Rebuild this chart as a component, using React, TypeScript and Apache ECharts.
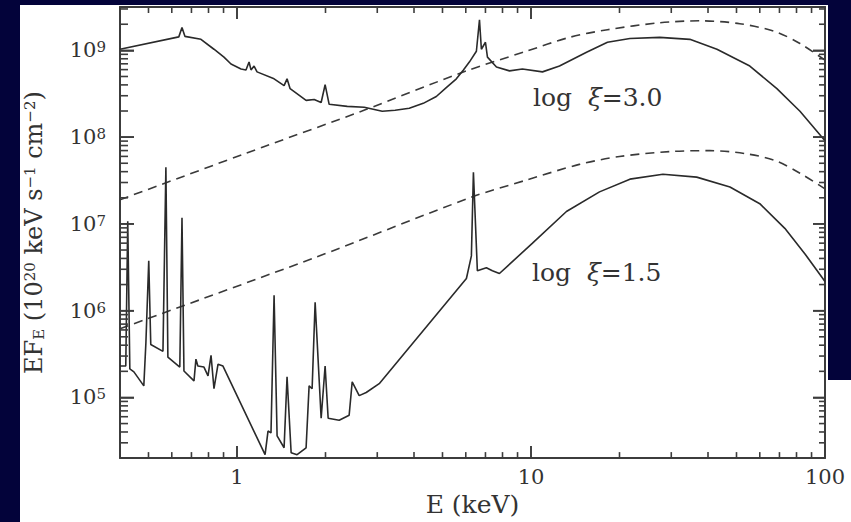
import React, { useEffect, useRef } from 'react';
import * as echarts from 'echarts';

// Axis ranges
const E_MIN = 0.4;
const E_MAX = 100;
const F_MIN = 2e4;
const F_MAX = 3.16e9;

// Tick values along all four frame sides
const xMajorTicks = [1, 10];
const xMinorTicks = [0.5, 0.6, 0.7, 0.8, 0.9, 2, 3, 4, 5, 6, 7, 8, 9, 20, 30, 40, 50, 60, 70, 80, 90];
const yMajorTicks = [1e5, 1e6, 1e7, 1e8, 1e9];
const yMinorTicks = [
  3e4, 4e4, 5e4, 6e4, 7e4, 8e4, 9e4,
  2e5, 3e5, 4e5, 5e5, 6e5, 7e5, 8e5, 9e5,
  2e6, 3e6, 4e6, 5e6, 6e6, 7e6, 8e6, 9e6,
  2e7, 3e7, 4e7, 5e7, 6e7, 7e7, 8e7, 9e7,
  2e8, 3e8, 4e8, 5e8, 6e8, 7e8, 8e8, 9e8,
  2e9, 3e9,
];

// Incident (dashed) spectrum, log xi = 3.0
const incHiE = [0.4, 1.24, 2.65, 6.03, 9.65, 13.5, 18.2, 27.4, 37.5, 51.3, 67.5, 82.2, 100];
const incHiF = [1.9e7, 7.8e7, 1.99e8, 5.8e8, 9.77e8, 1.41e9, 1.73e9, 2.08e9, 2.19e9, 2.03e9, 1.65e9, 1.2e9, 7.7e8];

// Incident (dashed) spectrum, log xi = 1.5
const incLoE = [0.4, 1.83, 6.32, 9.65, 14.6, 20.0, 29.6, 40.6, 53.4, 67.5, 82.2, 100];
const incLoF = [6.2e5, 4.06e6, 2.05e7, 3.2e7, 4.85e7, 5.98e7, 6.81e7, 6.99e7, 6.47e7, 5.39e7, 3.84e7, 2.53e7];

// Reflected (solid) spectrum, log xi = 3.0
const refHiE = [
  0.4, 0.634, 0.65, 0.665, 0.754, 0.835, 0.903, 0.954, 1.032, 1.073, 1.099, 1.116, 1.143, 1.17,
  1.337, 1.446, 1.48, 1.516, 1.718, 1.83, 1.933, 1.994, 2.058, 2.371, 2.709, 3.119, 3.45, 3.855, 4.3, 4.764,
  5.15, 5.574, 5.89, 6.17, 6.52, 6.68, 6.78, 7.0, 7.11, 7.63, 8.45, 9.35, 10.94, 12.5, 15.45, 18.2, 21.7, 27.4,
  34.7, 42.9, 55.5, 68.6, 82.2, 100,
];
const refHiF = [
  1.03e9, 1.43e9, 1.83e9, 1.45e9, 1.34e9, 1.03e9, 8.35e8, 6.96e8, 6.11e8, 5.95e8, 7.33e8, 5.95e8, 6.6e8, 5.65e8,
  4.7e8, 3.92e8, 4.7e8, 3.62e8, 2.65e8, 2.72e8, 2.51e8, 4.02e8, 2.39e8, 2.26e8, 2.21e8, 1.99e8, 2.04e8, 2.15e8, 2.45e8, 2.94e8,
  3.72e8, 4.7e8, 5.95e8, 7.33e8, 9.77e8, 2.25e9, 1.03e9, 1.24e9, 8.35e8, 6.43e8, 5.8e8, 6.11e8, 5.65e8, 6.6e8, 9.52e8, 1.24e9, 1.37e9, 1.41e9,
  1.34e9, 1.03e9, 6.6e8, 3.62e8, 1.99e8, 9.08e7,
];

// Reflected (solid) spectrum, log xi = 1.5
const refLoE = [
  0.4, 0.4185, 0.425, 0.432, 0.446, 0.482, 0.49, 0.501, 0.509, 0.56, 0.573, 0.582, 0.639, 0.65, 0.66,
  0.714, 0.725, 0.736, 0.772, 0.797, 0.816, 0.835, 0.862, 0.896, 1.246, 1.275, 1.305, 1.337, 1.369,
  1.446, 1.48, 1.528, 1.601, 1.718, 1.759, 1.801, 1.844, 1.933, 1.994, 2.042, 2.226, 2.407, 2.465,
  2.604, 2.751, 3.046, 6.03, 6.27, 6.37, 6.57, 7.05, 7.39, 7.81, 10.12, 13.2, 17.1, 21.7, 28.1, 36.6,
  47.5, 60.0, 73.0, 85.5, 100,
];
const refLoF = [
  2.3e5, 2.3e5, 1.07e7, 2.13e5, 1.97e5, 1.36e5, 4.3e5, 3.76e6, 4.08e5, 3.4e5, 4.49e7, 2.91e5, 2.24e5, 1.18e7, 2.02e5,
  1.55e5, 2.76e5, 2.3e5, 2.24e5, 1.77e5, 3.06e5, 1.26e5, 2.42e5, 2.3e5, 2.19e4, 4.1e4, 3.9e4, 1.51e6, 3.6e4,
  2.63e4, 1.73e5, 2.31e4, 2.19e4, 2.63e4, 1.36e5, 1.26e5, 1.25e6, 5.76e4, 2.3e5, 5.76e4, 5.47e4, 6.23e4, 1.51e5,
  1.05e5, 1.14e5, 1.44e5, 2.35e6, 4.28e6, 3.94e7, 2.89e6, 3.13e6, 2.89e6, 2.68e6, 6.01e6, 1.39e7, 2.34e7, 3.28e7, 3.74e7, 3.46e7,
  2.66e7, 1.71e7, 8.89e6, 4.51e6, 2.17e6,
];

const annotations = [
  { text: '{a|log  }{i|ξ}{a|=3.0}', x: 533, y: 97 },
  { text: '{a|log  }{i|ξ}{a|=1.5}', x: 532, y: 272 },
];

const NAVY = '#03033a';
const INK = '#333333';
const FRAME = '#3c3c3c';
const SERIF = '"DejaVu Serif", serif';

const zip = (xs: number[], ys: number[]) => xs.map((x, i) => [x, ys[i]]);
const isPow10 = (v: number) => {
  const l = Math.log10(v);
  return Math.abs(l - Math.round(l)) < 1e-6;
};

export default function App() {
  const ref = useRef<HTMLDivElement>(null);

  useEffect(() => {
    if (!ref.current) return;
    const chart = echarts.init(ref.current, undefined, { renderer: 'svg' });
    const lineStyleSolid = { color: '#2a2a2a', width: 1.6 };
    const lineStyleDash = { color: '#3a3a3a', width: 1.6, type: [9, 6] as any };
    const tickLine = (len: number) => ({ show: true, inside: true, length: len, lineStyle: { color: FRAME, width: 1.6 } });

    const annotationGraphics = annotations.map((a) => ({
      type: 'text',
      x: a.x,
      y: a.y,
      z: 10,
      style: {
        text: a.text,
        fill: INK,
        verticalAlign: 'middle',
        align: 'left',
        rich: {
          a: { fontFamily: SERIF, fontSize: 25, fill: INK, color: INK },
          i: { fontFamily: SERIF, fontSize: 25, fontStyle: 'italic', fill: INK, color: INK },
        },
      },
    }));

    const option: any = {
      animation: false,
      backgroundColor: 'transparent',
      textStyle: { fontFamily: SERIF },
      grid: { left: 120, top: 7, right: 26, bottom: 56 },
      graphic: annotationGraphics,
      xAxis: [
        {
          type: 'log',
          min: E_MIN,
          max: E_MAX,
          name: 'E (keV)',
          nameLocation: 'middle',
          nameGap: 31,
          nameTextStyle: { fontFamily: SERIF, fontSize: 25, color: INK },
          axisLine: { show: true, lineStyle: { color: FRAME, width: 2 } },
          axisTick: tickLine(12),
          axisLabel: {
            margin: 8,
            fontFamily: SERIF,
            fontSize: 21,
            color: INK,
            formatter: (v: number) => (isPow10(v) ? String(Math.round(v)) : ''),
          },
          splitLine: { show: false },
        },
        {
          type: 'log',
          min: E_MIN,
          max: E_MAX,
          position: 'top',
          axisLine: { show: true, lineStyle: { color: FRAME, width: 2 } },
          axisTick: tickLine(12),
          axisLabel: { show: false },
          splitLine: { show: false },
        },
      ],
      yAxis: [
        {
          type: 'log',
          min: F_MIN,
          max: F_MAX,
          name: '{a|EF}{sub|E}{a| (10}{sup|20}{a| keV s}{sup|−1}{a| cm}{sup|−2}{a|)}',
          nameLocation: 'middle',
          nameRotate: 90,
          nameGap: 74,
          nameTextStyle: {
            fontFamily: SERIF,
            fontSize: 24,
            color: INK,
            rich: {
              a: { fontFamily: SERIF, fontSize: 24, color: INK },
              sup: { fontFamily: SERIF, fontSize: 15, color: INK, verticalAlign: 'top' },
              sub: { fontFamily: SERIF, fontSize: 15, color: INK, verticalAlign: 'bottom', padding: [6, 0, 0, 0] },
            },
          },
          axisLine: { show: true, lineStyle: { color: FRAME, width: 2 } },
          axisTick: tickLine(14),
          axisLabel: {
            margin: 14,
            fontFamily: SERIF,
            fontSize: 21,
            color: INK,
            formatter: (v: number) => (isPow10(v) ? `{b|10}{s|${Math.round(Math.log10(v))}}` : ''),
            rich: {
              b: { fontFamily: SERIF, fontSize: 21, color: INK },
              s: { fontFamily: SERIF, fontSize: 15, color: INK, verticalAlign: 'top' },
            },
          },
          splitLine: { show: false },
        },
        {
          type: 'log',
          min: F_MIN,
          max: F_MAX,
          position: 'right',
          axisLine: { show: true, lineStyle: { color: FRAME, width: 2 } },
          axisTick: tickLine(12),
          axisLabel: { show: false },
          splitLine: { show: false },
        },
      ],
      series: [
        {
          type: 'line',
          name: 'incident log ξ=3.0',
          data: zip(incHiE, incHiF),
          showSymbol: false,
          smooth: 0.3,
          lineStyle: lineStyleDash,
        },
        {
          type: 'line',
          name: 'incident log ξ=1.5',
          data: zip(incLoE, incLoF),
          showSymbol: false,
          smooth: 0.3,
          lineStyle: lineStyleDash,
        },
        {
          type: 'line',
          name: 'reflected log ξ=3.0',
          data: zip(refHiE, refHiF),
          showSymbol: false,
          lineStyle: lineStyleSolid,
        },
        {
          type: 'line',
          name: 'reflected log ξ=1.5',
          data: zip(refLoE, refLoF),
          showSymbol: false,
          lineStyle: lineStyleSolid,
        },
      ],
    };
    chart.setOption(option);

    // Frame ticks placed through the axes' own scales (convertToPixel)
    const finder = { xAxisIndex: 0, yAxisIndex: 0 };
    const toPx = (e: number, f: number) => chart.convertToPixel(finder as any, [e, f]) as number[];
    const bl = toPx(E_MIN, F_MIN);
    const tr = toPx(E_MAX, F_MAX);
    const left = bl[0], bottom = bl[1], right = tr[0], top = tr[1];
    const seg = (x1: number, y1: number, x2: number, y2: number) => ({
      type: 'line',
      z: 5,
      silent: true,
      shape: { x1, y1, x2, y2 },
      style: { stroke: FRAME, lineWidth: 1.6 },
    });
    const tickGraphics: any[] = [];
    const addX = (vals: number[], len: number) =>
      vals.forEach((v) => {
        const px = toPx(v, F_MIN)[0];
        tickGraphics.push(seg(px, bottom, px, bottom - len));
        tickGraphics.push(seg(px, top, px, top + len));
      });
    const addY = (vals: number[], lenL: number, lenR: number) =>
      vals.forEach((v) => {
        const py = toPx(E_MIN, v)[1];
        tickGraphics.push(seg(left, py, left + lenL, py));
        tickGraphics.push(seg(right, py, right - lenR, py));
      });
    addX(xMajorTicks, 12);
    addX(xMinorTicks, 6);
    addY(yMajorTicks, 14, 12);
    addY(yMinorTicks, 8, 6);
    chart.setOption({ graphic: [...annotationGraphics, ...tickGraphics] });

    return () => chart.dispose();
  }, []);

  return (
    <div style={{ position: 'absolute', left: 0, top: 0, width: 851, height: 522, background: NAVY, overflow: 'hidden' }}>
      <div style={{ position: 'absolute', left: 20, top: 5, width: 808, height: 517, background: '#ffffff' }} />
      <div style={{ position: 'absolute', left: 828, top: 380, width: 23, height: 142, background: '#ffffff' }} />
      <div style={{ position: 'absolute', left: 0, top: 0, width: 851, height: 522 }}>
        <div ref={ref} style={{ width: 851, height: 522 }} />
      </div>
    </div>
  );
}
